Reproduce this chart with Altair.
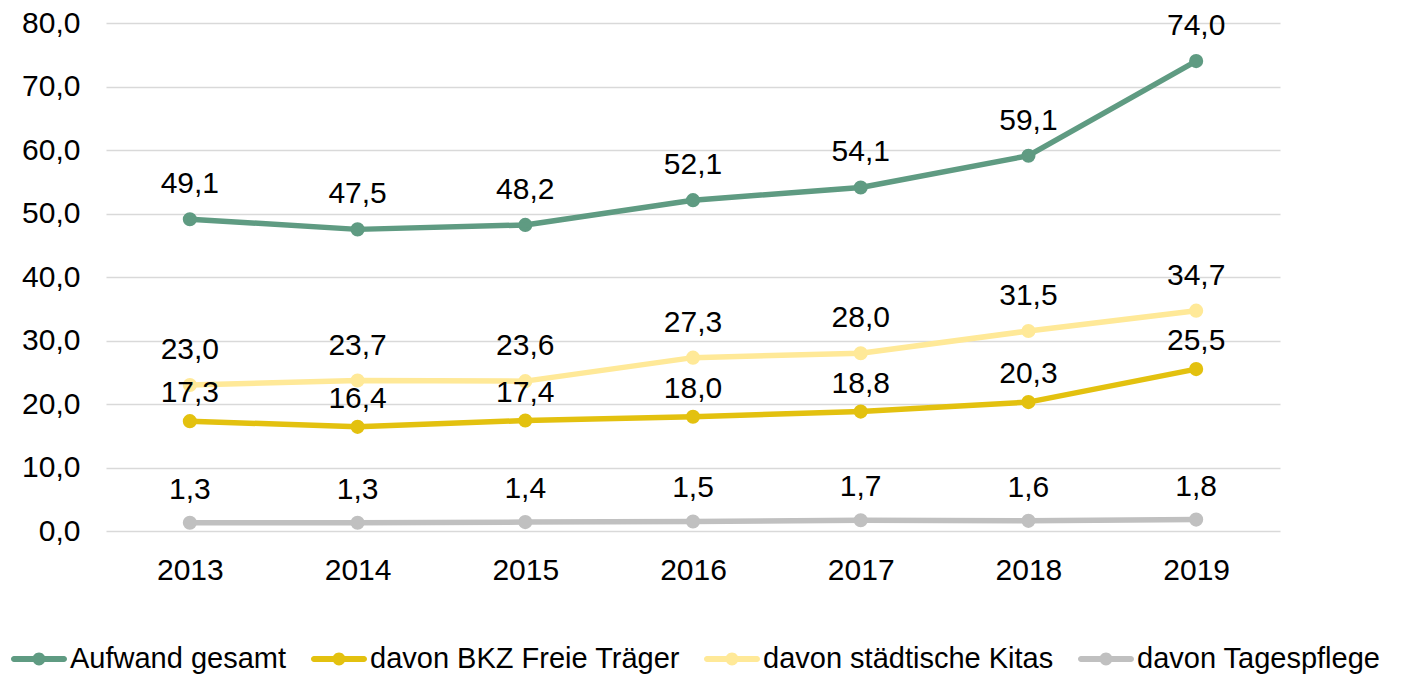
import altair as alt
import pandas as pd

years = ["2013", "2014", "2015", "2016", "2017", "2018", "2019"]
series_names = ["Aufwand gesamt", "davon BKZ Freie Träger", "davon städtische Kitas", "davon Tagespflege"]
aufwand = [49.1, 47.5, 48.2, 52.1, 54.1, 59.1, 74.0]
bkz = [17.3, 16.4, 17.4, 18.0, 18.8, 20.3, 25.5]
kitas = [23.0, 23.7, 23.6, 27.3, 28.0, 31.5, 34.7]
tagespflege = [1.3, 1.3, 1.4, 1.5, 1.7, 1.6, 1.8]
colors = ["#5f9b82", "#e3c10f", "#ffe998", "#c0c0c0"]

rows = []
for name, vals in zip(series_names, [aufwand, bkz, kitas, tagespflege]):
    for y, v in zip(years, vals):
        rows.append({"Jahr": y, "Serie": name, "Wert": v})
df = pd.DataFrame(rows)

FONT = "Liberation Sans"
legend_path = ("M-0.893,-0.107 H0.893 A0.107,0.107 0 0 1 0.893,0.107 H-0.893 "
               "A0.107,0.107 0 0 1 -0.893,-0.107 Z "
               "M0.23,0 A0.23,0.23 0 1 1 -0.23,0 A0.23,0.23 0 1 1 0.23,0 Z")

x = alt.X("Jahr:O", scale=alt.Scale(padding=0.5), sort=years,
          axis=alt.Axis(title=None, labelAngle=0, domain=False, ticks=False,
                        labelFontSize=30, labelFont=FONT, labelColor="#000000",
                        labelPadding=24))
y = alt.Y("Wert:Q", scale=alt.Scale(domain=[0, 80]),
          axis=alt.Axis(title=None, values=list(range(0, 81, 10)), domain=False, ticks=False,
                        labelExpr="replace(format(datum.value, '.1f'), '.', ',')",
                        labelFontSize=30, labelFont=FONT, labelColor="#000000",
                        labelPadding=26, gridColor="#d9d9d9", gridWidth=1.5))
legend = alt.Legend(title=None, orient="none", direction="horizontal",
                    legendX=-95, legendY=608,
                    symbolType=legend_path, symbolSize=3136,
                    symbolStrokeWidth=0, symbolOpacity=1,
                    labelFontSize=29, labelFont=FONT, labelColor="#000000",
                    labelOffset=3, columnPadding=24, labelLimit=0)
color = alt.Color("Serie:N", sort=series_names,
                  scale=alt.Scale(domain=series_names, range=colors),
                  legend=legend)

base = alt.Chart(df)
points = base.mark_point(filled=True, size=200, opacity=1).encode(x=x, y=y, color=color)
lines = base.mark_line(strokeWidth=5.5, strokeCap="round", strokeJoin="round").encode(
    x=x, y=y, color=color, detail="Serie:N")

dys = {"Aufwand gesamt": -35, "davon BKZ Freie Träger": -28,
       "davon städtische Kitas": -35, "davon Tagespflege": -33}
texts = []
for name in series_names:
    texts.append(
        base.transform_filter(alt.datum.Serie == name)
        .transform_calculate(label="replace(format(datum.Wert, '.1f'), '.', ',')")
        .mark_text(dy=dys[name], fontSize=30, font=FONT, color="#000000", baseline="middle")
        .encode(x=x, y=y, text="label:N")
    )

chart = alt.layer(points, lines, *texts).properties(
    width=1174, height=508,
    autosize=alt.AutoSizeParams(type="none"),
    padding={"left": 98, "top": 15, "right": 120, "bottom": 143},
).configure_view(stroke=None).configure_legend(padding=0)

chart.save("out.html", embed_options={"renderer": "svg", "actions": False})
